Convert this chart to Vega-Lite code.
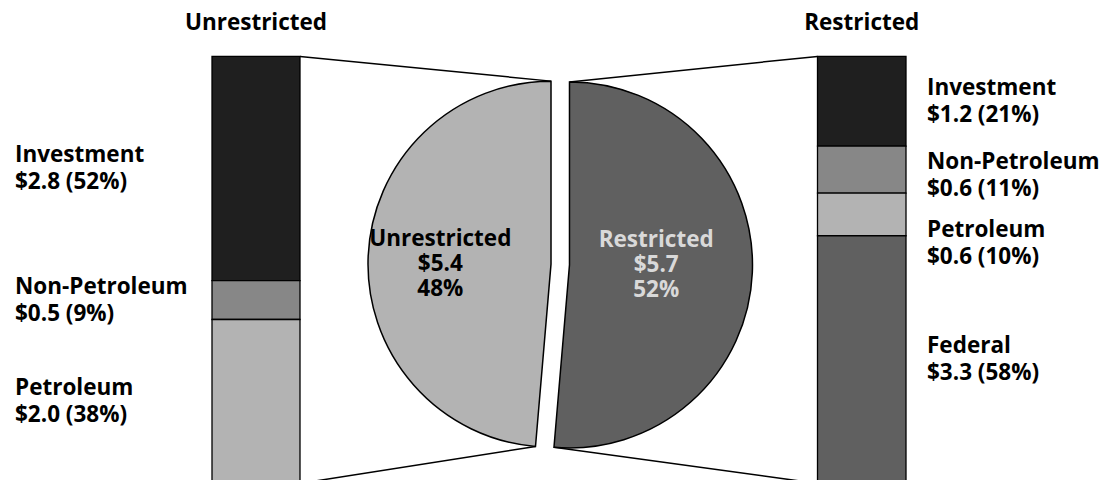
{
  "$schema": "https://vega.github.io/schema/vega-lite/v6.json",
  "width": 1105,
  "height": 480,
  "autosize": "none",
  "padding": 0,
  "background": "white",
  "config": {
    "view": {"stroke": null},
    "text": {"font": "Open Sans", "fontWeight": "bold", "fontSize": 22.5, "lineHeight": 27}
  },
  "params": [
    {"name": "leftBarX0", "value": 212},
    {"name": "leftBarX1", "value": 300},
    {"name": "rightBarX0", "value": 817.5},
    {"name": "rightBarX1", "value": 906},
    {"name": "leftLabelX", "value": 15},
    {"name": "rightLabelX", "value": 927},
    {"name": "labelGap", "value": 0.173},
    {"name": "pieX", "value": 560.25},
    {"name": "pieY", "value": 0.5126},
    {"name": "pieR", "value": 183},
    {"name": "explode", "value": 9.25},
    {"name": "pxPerShare", "value": 427}
  ],
  "datasets": {
    "segments": [
      {"side": "Unrestricted", "category": "Investment", "amount": 2.8, "pct": 52},
      {"side": "Unrestricted", "category": "Non-Petroleum", "amount": 0.5, "pct": 9},
      {"side": "Unrestricted", "category": "Petroleum", "amount": 2.0, "pct": 38},
      {"side": "Restricted", "category": "Investment", "amount": 1.2, "pct": 21},
      {"side": "Restricted", "category": "Non-Petroleum", "amount": 0.6, "pct": 11},
      {"side": "Restricted", "category": "Petroleum", "amount": 0.6, "pct": 10},
      {"side": "Restricted", "category": "Federal", "amount": 3.3, "pct": 58}
    ],
    "totals": [
      {"side": "Unrestricted", "amount": 5.4, "pct": 48},
      {"side": "Restricted", "amount": 5.7, "pct": 52}
    ]
  },
  "layer": [
    {
      "data": {"name": "segments"},
      "transform": [
        {"calculate": "indexof(['Federal', 'Petroleum', 'Non-Petroleum', 'Investment'], datum.category)", "as": "rank"},
        {"stack": "pct", "groupby": ["side"], "offset": "normalize", "sort": [{"field": "rank", "order": "ascending"}], "as": ["s0", "s1"]},
        {"calculate": "datum.side === 'Unrestricted' ? leftBarX0 : rightBarX0", "as": "bx0"},
        {"calculate": "datum.side === 'Unrestricted' ? leftBarX1 : rightBarX1", "as": "bx1"},
        {"calculate": "datum.side === 'Unrestricted' ? leftLabelX : rightLabelX", "as": "lx"},
        {"calculate": "(datum.s0 + datum.s1) / 2", "as": "sMid"},
        {"window": [{"op": "lag", "field": "sMid", "as": "aboveMid"}], "groupby": ["side"], "sort": [{"field": "rank", "order": "descending"}]},
        {"calculate": "datum.aboveMid == null ? datum.sMid : min(datum.sMid, datum.aboveMid - labelGap)", "as": "labelY"},
        {"calculate": "datum.category + '\\n$' + format(datum.amount, '.1f') + ' (' + datum.pct + '%)'", "as": "label"}
      ],
      "layer": [
        {
          "mark": {"type": "rect", "stroke": "#000000", "strokeWidth": 1.3},
          "encoding": {
            "x": {"field": "bx0", "type": "quantitative", "scale": {"domain": [0, 1105], "nice": false, "zero": false}, "axis": null},
            "x2": {"field": "bx1"},
            "y": {"field": "s0", "type": "quantitative", "scale": {"domain": [0.00796, 1.13208], "nice": false, "zero": false}, "axis": null},
            "y2": {"field": "s1"},
            "color": {
              "field": "category",
              "type": "nominal",
              "scale": {
                "domain": ["Investment", "Non-Petroleum", "Petroleum", "Federal", "Unrestricted", "Restricted"],
                "range": ["#1f1f1f", "#878787", "#b3b3b3", "#606060", "#b3b3b3", "#606060"]
              },
              "legend": null
            }
          }
        },
        {
          "mark": {"type": "text", "align": "left", "baseline": "middle", "lineBreak": "\n", "dy": -13.5, "color": "#000000"},
          "encoding": {
            "x": {"field": "lx", "type": "quantitative"},
            "y": {"field": "labelY", "type": "quantitative"},
            "text": {"field": "label", "type": "nominal"}
          }
        }
      ]
    },
    {
      "data": {"name": "totals"},
      "transform": [
        {"calculate": "datum.side === 'Restricted' ? 0 : 1", "as": "rank"},
        {"joinaggregate": [{"op": "sum", "field": "amount", "as": "total"}]},
        {"window": [{"op": "sum", "field": "amount", "as": "cum"}], "sort": [{"field": "rank", "order": "ascending"}], "frame": [null, 0]},
        {"calculate": "(datum.cum - datum.amount) / datum.total", "as": "t0"},
        {"calculate": "datum.cum / datum.total", "as": "t1"},
        {"calculate": "PI * (datum.t0 + datum.t1)", "as": "mid"},
        {"calculate": "2 * PI * (datum.side === 'Restricted' ? datum.t1 : datum.t0)", "as": "cut"},
        {"calculate": "pieX + explode * sin(datum.mid)", "as": "cx"},
        {"calculate": "pieY + explode * cos(datum.mid) / pxPerShare", "as": "cy"},
        {"calculate": "datum.side === 'Unrestricted' ? leftBarX1 : rightBarX0", "as": "edgeX"},
        {"calculate": "datum.side === 'Unrestricted' ? (leftBarX0 + leftBarX1) / 2 : (rightBarX0 + rightBarX1) / 2", "as": "barMidX"},
        {"calculate": "1", "as": "barTop"},
        {"calculate": "0", "as": "barBottom"},
        {"calculate": "datum.cy + pieR / pxPerShare", "as": "topY"},
        {"calculate": "datum.cx + pieR * sin(datum.cut)", "as": "cutX"},
        {"calculate": "datum.cy + pieR * cos(datum.cut) / pxPerShare", "as": "cutY"},
        {"calculate": "datum.cx + 0.54 * pieR * sin(datum.mid)", "as": "labelX"},
        {"calculate": "datum.side + '\\n$' + format(datum.amount, '.1f') + '\\n' + datum.pct + '%'", "as": "label"}
      ],
      "layer": [
        {
          "mark": {"type": "arc", "radius": 183, "stroke": "#000000", "strokeWidth": 1.5},
          "encoding": {
            "x": {"field": "cx", "type": "quantitative"},
            "y": {"field": "cy", "type": "quantitative"},
            "theta": {"field": "t0", "type": "quantitative", "scale": {"domain": [0, 1], "range": [0, 6.283185307179586]}},
            "theta2": {"field": "t1"},
            "color": {"field": "side", "type": "nominal"}
          }
        },
        {
          "mark": {"type": "rule", "stroke": "#000000", "strokeWidth": 1.5},
          "encoding": {
            "x": {"field": "edgeX", "type": "quantitative"},
            "y": {"field": "barTop", "type": "quantitative"},
            "x2": {"field": "cx"},
            "y2": {"field": "topY"}
          }
        },
        {
          "mark": {"type": "rule", "stroke": "#000000", "strokeWidth": 1.5},
          "encoding": {
            "x": {"field": "edgeX", "type": "quantitative"},
            "y": {"field": "barBottom", "type": "quantitative"},
            "x2": {"field": "cutX"},
            "y2": {"field": "cutY"}
          }
        },
        {
          "mark": {"type": "text", "align": "center", "baseline": "alphabetic", "dy": -26, "color": "#000000"},
          "encoding": {
            "x": {"field": "barMidX", "type": "quantitative"},
            "y": {"field": "barTop", "type": "quantitative"},
            "text": {"field": "side", "type": "nominal"}
          }
        },
        {
          "mark": {"type": "text", "align": "center", "baseline": "middle", "lineBreak": "\n", "lineHeight": 25, "dx": -12, "dy": -25},
          "encoding": {
            "x": {"field": "labelX", "type": "quantitative"},
            "y": {"field": "cy", "type": "quantitative"},
            "text": {"field": "label", "type": "nominal"},
            "color": {"condition": {"test": "datum.side === 'Restricted'", "value": "#d9d9d9"}, "value": "#000000"}
          }
        }
      ]
    }
  ]
}
